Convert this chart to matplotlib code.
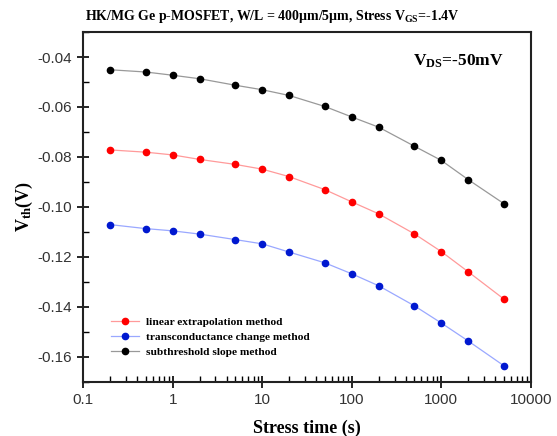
import numpy as np
import matplotlib
matplotlib.use("Agg")
import matplotlib.pyplot as plt
from matplotlib.ticker import FixedLocator, FixedFormatter, MultipleLocator, LogLocator, NullFormatter

# Data ------------------------------------------------------------------------
stress_time = [0.2, 0.5, 1, 2, 5, 10, 20, 50, 100, 200, 500, 1000, 2000, 5000]

vth_linear = [-0.0772, -0.0781, -0.0792, -0.0810, -0.0830, -0.0849, -0.0879,
              -0.0931, -0.0980, -0.1028, -0.1108, -0.1179, -0.1260, -0.1369]
vth_gm = [-0.1071, -0.1087, -0.1096, -0.1109, -0.1131, -0.1148, -0.1181,
          -0.1224, -0.1268, -0.1316, -0.1396, -0.1465, -0.1537, -0.1636]
vth_ss = [-0.0451, -0.0460, -0.0473, -0.0487, -0.0513, -0.0531, -0.0554,
          -0.0598, -0.0640, -0.0681, -0.0757, -0.0814, -0.0891, -0.0987]

labels = ["linear extrapolation method", "transconductance change method",
          "subthreshold slope method"]
x_ticks = [0.1, 1, 10, 100, 1000, 10000]
x_ticklabels = ["0.1", "1", "10", "100", "1000", "10000"]

# Fonts -----------------------------------------------------------------------
plt.rcParams["mathtext.fontset"] = "custom"
plt.rcParams["mathtext.rm"] = "Liberation Serif:bold"
plt.rcParams["mathtext.it"] = "Liberation Serif:bold"
plt.rcParams["mathtext.bf"] = "Liberation Serif:bold"
serif = "Liberation Serif"
sans = "Liberation Sans"

# Canvas ----------------------------------------------------------------------
fig = plt.figure(figsize=(5.57, 4.36), dpi=100)
ax = fig.add_axes([0.1495, 0.1245, 0.8035, 0.802])

series = [
    (vth_linear, "#ff9a9a", "#ff0000"),
    (vth_gm, "#9aa8ff", "#0018d0"),
    (vth_ss, "#999999", "#000000"),
]
for (vals, lc, mc), lab in zip(series, labels):
    ax.plot(stress_time, vals, color=lc, linewidth=0.9, marker="o",
            markersize=4.5, markerfacecolor=mc, markeredgecolor=mc, label=lab)

ax.set_xscale("log")
ax.set_xlim(0.1, 10000)
ax.set_ylim(-0.17, -0.03)

ax.xaxis.set_major_locator(FixedLocator(x_ticks))
ax.xaxis.set_major_formatter(FixedFormatter(x_ticklabels))
ax.xaxis.set_minor_locator(LogLocator(base=10, subs=np.arange(2, 10)))
ax.xaxis.set_minor_formatter(NullFormatter())
ax.yaxis.set_major_locator(MultipleLocator(0.02))
ax.yaxis.set_minor_locator(MultipleLocator(0.01))
ax.yaxis.set_major_formatter(plt.FuncFormatter(lambda v, p: f"{v:.2f}"))

ax.tick_params(which="major", direction="inout", length=9, width=1.2,
               labelsize=11, labelcolor="#333333", top=False, right=False)
ax.tick_params(which="minor", direction="in", length=4, width=1.0,
               top=False, right=False)
for lab in ax.get_xticklabels() + ax.get_yticklabels():
    lab.set_fontfamily(sans)
for s in ax.spines.values():
    s.set_linewidth(1.5)
    s.set_color("#222222")

ax.set_xlabel("Stress time (s)", fontfamily=serif, fontweight="bold",
              fontsize=13, labelpad=9)
ax.set_ylabel(r"V$_{th}$(V)", fontfamily=serif, fontweight="bold",
              fontsize=13, labelpad=2)
ax.set_title(r"HK/MG Ge p-MOSFET, W/L = 400μm/5μm, Stress V$_{GS}$=-1.4V",
             fontfamily=serif, fontweight="bold", fontsize=10, pad=9, x=0.422)

ax.text(0.737, 0.915, r"V$_{DS}$=-50mV", transform=ax.transAxes,
        fontfamily=serif, fontweight="bold", fontsize=12.5, ha="left", va="center")

leg = ax.legend(loc="lower left", bbox_to_anchor=(0.04, 0.04), frameon=False,
                prop={"family": serif, "weight": "bold", "size": 8.2},
                handlelength=2.4, labelspacing=0.45, handletextpad=0.6)

fig.savefig("out.png", dpi=100)
